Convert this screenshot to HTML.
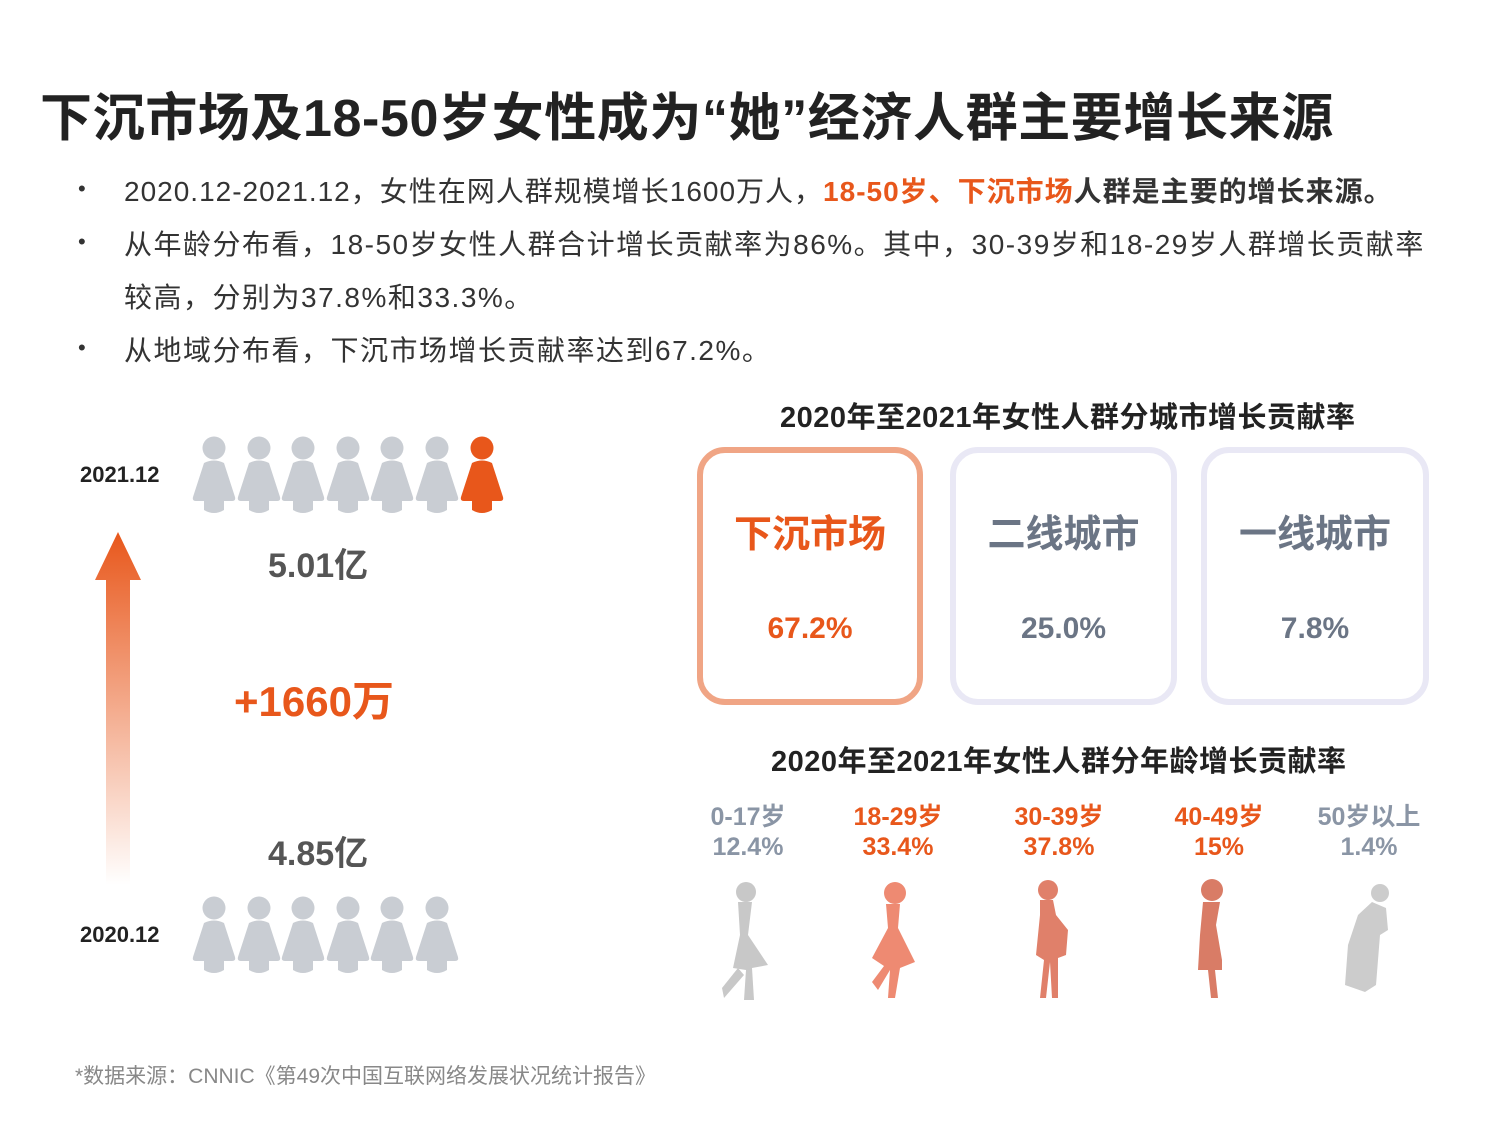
<!DOCTYPE html>
<html><head><meta charset="utf-8"><style>
body{margin:0;width:1500px;height:1125px;background:#fff;position:relative;font-family:"Liberation Sans","Noto Sans CJK SC",sans-serif;overflow:hidden}
.a{position:absolute;white-space:nowrap}
.t{left:40px;top:76px;font-size:52px;font-weight:bold;color:#222;letter-spacing:0.6px}
.b{font-size:28px;color:#333;letter-spacing:1.5px}
.dot{left:78px;font-size:22px;color:#333}
.o{color:#e8571b;font-weight:bold}
.card{position:absolute;top:447px;height:258px;border-radius:28px;box-sizing:border-box;text-align:center}
.card .h{font-size:38px;font-weight:bold;margin-top:50px}
.card .v{font-size:30px;font-weight:bold;margin-top:54px}
.ag{position:absolute;top:802px;width:140px;text-align:center;font-size:25px;font-weight:bold;line-height:30px}
</style></head><body>
<div class="a t">下沉市场及18-50岁女性成为“她”经济人群主要增长来源</div>
<div class="a dot" style="top:176px">•</div>
<div class="a b" style="left:124px;top:170px;letter-spacing:1px">2020.12-2021.12，女性在网人群规模增长1600万人，<span class="o">18-50岁、下沉市场</span><b>人群是主要的增长来源。</b></div>
<div class="a dot" style="top:229px">•</div>
<div class="a b" style="left:124px;top:223px">从年龄分布看，18-50岁女性人群合计增长贡献率为86%。其中，30-39岁和18-29岁人群增长贡献率</div>
<div class="a b" style="left:124px;top:276px">较高，分别为37.8%和33.3%。</div>
<div class="a dot" style="top:335px">•</div>
<div class="a b" style="left:124px;top:329px">从地域分布看，下沉市场增长贡献率达到67.2%。</div>

<div class="a" style="left:80px;top:462px;font-size:22px;font-weight:bold;color:#222">2021.12</div>
<div class="a" style="left:80px;top:922px;font-size:22px;font-weight:bold;color:#222">2020.12</div>
<svg class="a" style="left:0;top:0" width="700" height="1125">
<defs><linearGradient id="g" x1="0" y1="0" x2="0" y2="1"><stop offset="0" stop-color="#e8571b"/><stop offset="1" stop-color="#fff"/></linearGradient>
<g id="p"><circle cx="0" cy="-37" r="11.5"/><path d="M-10,-22 Q0,-27 10,-22 L21,12 Q22,16 18,16 L10,16 L10,25 Q0,31 -10,25 L-10,16 L-18,16 Q-22,16 -21,12 Z"/></g></defs>
<path d="M118,532 L141,580 L130,580 L130,885 L106,885 L106,580 L95,580 Z" fill="url(#g)"/>
<g fill="#c9cdd3">
<use href="#p" x="214" y="485"/><use href="#p" x="259" y="485"/><use href="#p" x="303" y="485"/><use href="#p" x="348" y="485"/><use href="#p" x="392" y="485"/><use href="#p" x="437" y="485"/>
<use href="#p" x="214" y="945"/><use href="#p" x="259" y="945"/><use href="#p" x="303" y="945"/><use href="#p" x="348" y="945"/><use href="#p" x="392" y="945"/><use href="#p" x="437" y="945"/>
</g>
<use href="#p" x="482" y="485" fill="#e8571b"/>
</svg>
<div class="a" style="left:268px;top:538px;font-size:34px;font-weight:bold;color:#555">5.01亿</div>
<div class="a" style="left:234px;top:668px;font-size:42px;font-weight:bold;color:#e8571b">+1660万</div>
<div class="a" style="left:268px;top:826px;font-size:34px;font-weight:bold;color:#555">4.85亿</div>

<div class="a" style="left:780px;top:394px;font-size:29px;font-weight:bold;color:#222;letter-spacing:0.5px">2020年至2021年女性人群分城市增长贡献率</div>
<div class="card" style="left:697px;width:226px;border:6px solid #f0a585;color:#e8571b"><div class="h">下沉市场</div><div class="v">67.2%</div></div>
<div class="card" style="left:950px;width:227px;border:6px solid #e9e8f5;color:#6b7585"><div class="h">二线城市</div><div class="v">25.0%</div></div>
<div class="card" style="left:1201px;width:228px;border:6px solid #e9e8f5;color:#6b7585"><div class="h">一线城市</div><div class="v">7.8%</div></div>

<div class="a" style="left:771px;top:738px;font-size:29px;font-weight:bold;color:#222;letter-spacing:0.5px">2020年至2021年女性人群分年龄增长贡献率</div>
<div class="ag" style="left:678px;color:#8a95a5">0-17岁<br>12.4%</div>
<div class="ag" style="left:828px;color:#e8571b">18-29岁<br>33.4%</div>
<div class="ag" style="left:989px;color:#e8571b">30-39岁<br>37.8%</div>
<div class="ag" style="left:1149px;color:#e8571b">40-49岁<br>15%</div>
<div class="ag" style="left:1299px;color:#8a95a5">50岁以上<br>1.4%</div>
<svg class="a" style="left:0;top:0" width="1500" height="1125">
<g fill="#c8c8c8"><circle cx="746" cy="892" r="10"/><path d="M738,902 L752,902 L748,935 L768,965 L752,968 L754,1000 L744,1000 L746,970 L733,968 L740,935 Z"/><path d="M738,968 L722,988 L724,998 L744,975 Z"/></g>
<g fill="#ee8a72"><circle cx="895" cy="893" r="11"/><path d="M886,904 L900,904 L898,928 L915,962 L900,968 L895,998 L888,998 L890,970 L878,990 L872,982 L884,966 L872,958 L888,928 Z"/></g>
<g fill="#e0806a"><circle cx="1048" cy="890" r="10"/><path d="M1040,900 L1053,900 L1056,915 L1068,930 L1066,955 L1058,958 L1058,998 L1052,998 L1050,962 L1046,998 L1040,998 L1044,960 L1036,955 L1040,915 Z"/></g>
<g fill="#d97c66"><circle cx="1212" cy="890" r="11"/><path d="M1203,902 L1220,902 L1216,925 L1222,960 L1222,970 L1215,970 L1218,998 L1211,998 L1208,970 L1198,970 L1200,935 Z"/></g>
<g fill="#cccccc"><circle cx="1380" cy="893" r="9"/><path d="M1372,902 L1386,908 L1388,930 L1380,935 L1376,985 L1365,992 L1345,985 L1348,945 L1358,915 Z"/></g>
</svg>

<div class="a" style="left:75px;top:1060px;font-size:21px;color:#888">*数据来源：CNNIC《第49次中国互联网络发展状况统计报告》</div>
</body></html>
